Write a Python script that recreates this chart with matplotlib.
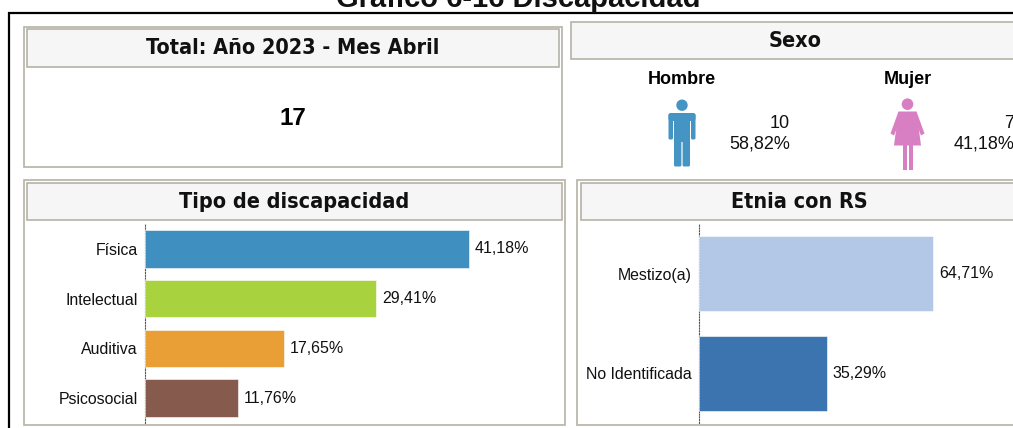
import matplotlib
matplotlib.use("Agg")
import matplotlib.pyplot as plt
from matplotlib import font_manager
from matplotlib.patches import Rectangle, Circle, FancyBboxPatch, Polygon

W, H = 1013, 428

disc_labels = ["Física", "Intelectual", "Auditiva", "Psicosocial"]
disc_values = [41.18, 29.41, 17.65, 11.76]
disc_colors = ["#3F8FC0", "#A8D33F", "#EA9E36", "#875A4E"]

etnia_labels = ["Mestizo(a)", "No Identificada"]
etnia_values = [64.71, 35.29]
etnia_colors = ["#B3C7E6", "#3B74AE"]

total_value = "17"
sexo_labels = ["Hombre", "Mujer"]
sexo_counts = ["10", "7"]
sexo_pcts = ["58,82%", "41,18%"]

HEAD_FONT = "DejaVu Sans"
BODY_FONT = "Liberation Sans"
BORDER = "#B5B3A6"

# condensed bold is closer to the header face when it is installed
has_condensed = any(f.name == HEAD_FONT and f.stretch == "condensed" and f.weight in ("bold", 700)
                    for f in font_manager.fontManager.ttflist)
HEAD_STRETCH = "condensed" if has_condensed else "normal"
HEAD_SIZE = 15.5 if has_condensed else 14

fig = plt.figure(figsize=(W / 100, H / 100), dpi=100)

# overlay in pixel coordinates, y going down like the screenshot
bg = fig.add_axes([0, 0, 1, 1])
bg.set_xlim(0, W)
bg.set_ylim(H, 0)
bg.axis("off")


def box(x0, y0, x1, y1, fc="white", ec=BORDER, lw=1.2):
    bg.add_patch(Rectangle((x0, y0), x1 - x0, y1 - y0, fc=fc, ec=ec, lw=lw))


def header(x0, y0, x1, y1, text, cx=None):
    box(x0, y0, x1, y1, fc="#F6F6F6")
    if cx is None:
        cx = (x0 + x1) / 2
    bg.text(cx, (y0 + y1) / 2, text, ha="center", va="center", fontsize=HEAD_SIZE,
            fontweight="bold", fontstretch=HEAD_STRETCH, family=HEAD_FONT, color="#111111")


def hbars(rect, labels, values, colors, px_per_unit):
    x0, y0, x1, y1 = rect
    ax = fig.add_axes([x0 / W, 1 - y1 / H, (x1 - x0) / W, (y1 - y0) / H])
    ax.patch.set_alpha(0)
    ax.barh(range(len(labels)), values, height=0.75, color=colors, edgecolor="white", linewidth=0.4)
    ax.set_ylim(len(labels) - 0.5, -0.5)
    ax.set_xlim(0, (x1 - x0) / px_per_unit)
    ax.set_yticks(range(len(labels)))
    ax.set_yticklabels(labels, fontsize=11.4, family=BODY_FONT, color="#111111")
    ax.tick_params(axis="y", length=0, pad=5)
    ax.set_xticks([])
    for s in ["top", "right", "bottom"]:
        ax.spines[s].set_visible(False)
    # dotted axis sits behind the bars
    ax.spines["left"].set_linestyle((0, (1, 1.5)))
    ax.spines["left"].set_linewidth(0.8)
    ax.spines["left"].set_color("#555555")
    ax.spines["left"].set_zorder(0.5)
    for i, v in enumerate(values):
        ax.annotate(f"{v:.2f}%".replace(".", ","), (v, i), xytext=(6, 0), textcoords="offset pixels",
                    va="center", fontsize=11.5, family=BODY_FONT, color="#111111")
    return ax


def man(cx, top, color="#4494C4"):
    bg.add_patch(Circle((cx, top + 5.7), 5.7, fc=color, ec="none"))
    bg.add_patch(FancyBboxPatch((cx - 13.5, top + 13.5), 27, 8, boxstyle="round,pad=0,rounding_size=2.5", fc=color, ec="none"))
    bg.add_patch(FancyBboxPatch((cx - 13.5, top + 14), 4.5, 26, boxstyle="round,pad=0,rounding_size=1.5", fc=color, ec="none"))
    bg.add_patch(FancyBboxPatch((cx + 9, top + 14), 4.5, 26, boxstyle="round,pad=0,rounding_size=1.5", fc=color, ec="none"))
    bg.add_patch(Rectangle((cx - 8, top + 14), 16, 28, fc=color, ec="none"))
    bg.add_patch(FancyBboxPatch((cx - 8, top + 38), 7.4, 29, boxstyle="round,pad=0,rounding_size=1.5", fc=color, ec="none"))
    bg.add_patch(FancyBboxPatch((cx + 0.6, top + 38), 7.4, 29, boxstyle="round,pad=0,rounding_size=1.5", fc=color, ec="none"))


def woman(cx, top, color="#D87FC4"):
    bg.add_patch(Circle((cx, top + 5.7), 5.8, fc=color, ec="none"))
    bg.add_patch(Polygon([(cx - 9, top + 13), (cx + 9, top + 13), (cx + 13.5, top + 47), (cx - 13.5, top + 47)], fc=color, ec="none"))
    bg.add_patch(Polygon([(cx - 9, top + 13), (cx - 6, top + 18), (cx - 13.5, top + 37), (cx - 17, top + 35)], fc=color, ec="none"))
    bg.add_patch(Polygon([(cx + 9, top + 13), (cx + 6, top + 18), (cx + 13.5, top + 37), (cx + 17, top + 35)], fc=color, ec="none"))
    bg.add_patch(Rectangle((cx - 5, top + 46), 4, 25, fc=color, ec="none"))
    bg.add_patch(Rectangle((cx + 1, top + 46), 4, 25, fc=color, ec="none"))


# outer black frame, open on the right and bottom
bg.plot([8.5, 8.5, W], [H, 13, 13], color="black", lw=1.6, solid_joinstyle="miter")
# the source screenshot cuts this title off at the top edge too
bg.text(518, 7, "Gráfico 6-16 Discapacidad", ha="center", va="baseline", fontsize=21,
        fontweight="bold", family=BODY_FONT, color="#111111", clip_on=False)

# total panel
box(24, 27, 562, 167)
header(27, 29, 559, 67, "Total: Año 2023 - Mes Abril", cx=293)
bg.text(293, 118, total_value, ha="center", va="center", fontsize=17.5, fontweight="bold", family=BODY_FONT)

# sexo panel
header(571, 22, W + 5, 59, "Sexo", cx=795)
bg.text(682, 79, sexo_labels[0], ha="center", va="center", fontsize=13, fontweight="bold", family=BODY_FONT)
bg.text(908, 79, sexo_labels[1], ha="center", va="center", fontsize=13, fontweight="bold", family=BODY_FONT)
man(682, 99.5)
woman(907.5, 98.5)
bg.text(790, 123, sexo_counts[0], ha="right", va="center", fontsize=13, family=BODY_FONT, color="#111111")
bg.text(790, 144, sexo_pcts[0], ha="right", va="center", fontsize=13, family=BODY_FONT, color="#111111")
bg.text(1014, 123, sexo_counts[1], ha="right", va="center", fontsize=13, family=BODY_FONT, color="#111111")
bg.text(1014, 144, sexo_pcts[1], ha="right", va="center", fontsize=13, family=BODY_FONT, color="#111111")

# bar panels
box(24, 180, 565, 425)
header(27, 183, 562, 220, "Tipo de discapacidad")
box(577, 180, W + 5, 425)
header(581, 183, W + 5, 220, "Etnia con RS", cx=799)

hbars((145, 224, 560, 423), disc_labels, disc_values, disc_colors, 7.868)
hbars((699, 224, 1010, 423), etnia_labels, etnia_values, etnia_colors, 3.616)

fig.savefig("out.png", dpi=100)
